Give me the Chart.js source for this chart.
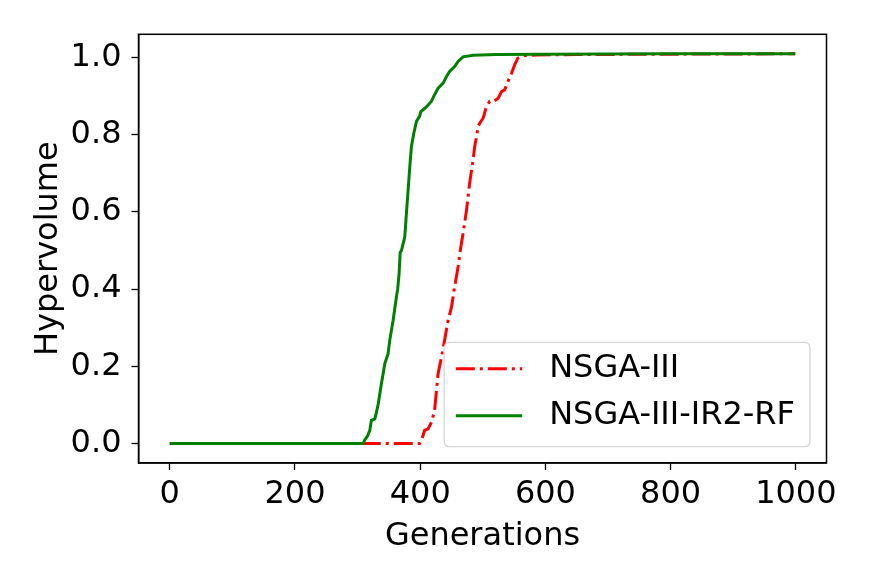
<!DOCTYPE html>
<html>
<head>
<meta charset="utf-8">
<script src="https://cdn.jsdelivr.net/npm/chart.js@4.4.1/dist/chart.umd.min.js"></script>
<style>
html,body{margin:0;padding:0;background:#fff;}
#wrap{width:872px;height:581px;position:relative;}
</style>
</head>
<body>
<div id="wrap"><canvas id="c"></canvas></div>
<script>
// ---- data ----
const seriesNames = ['NSGA-III', 'NSGA-III-IR2-RF'];

const nsgaGen = [0, 399, 402, 407, 412.6, 418, 423, 426, 428.6, 434, 439, 444.6, 450, 455, 460.5, 464, 468.5, 474, 479, 484.5, 487, 490, 492.5, 495, 500.5, 505, 511, 517.6, 524.5, 530, 535, 540.4, 546, 551, 556, 564.5, 586, 650, 800, 999];
const nsgaHV  = [0, 0, 0.008, 0.034, 0.038, 0.055, 0.086, 0.138, 0.181, 0.224, 0.268, 0.319, 0.354, 0.406, 0.458, 0.500, 0.545, 0.605, 0.675, 0.735, 0.770, 0.795, 0.822, 0.830, 0.843, 0.869, 0.887, 0.887, 0.895, 0.912, 0.917, 0.939, 0.960, 0.982, 0.999, 1.005, 1.007, 1.008, 1.009, 1.010];

const irGen = [0, 309, 311, 316, 319.5, 322, 327.5, 330, 333, 338, 343.5, 348.7, 351.4, 356.7, 362, 364, 366.3, 368, 370, 375.4, 378, 380.7, 383.4, 386, 389.8, 394, 396, 399, 401, 404.6, 411, 418, 423, 428.6, 436.6, 442, 447, 455, 460.5, 468.5, 484.5, 520, 600, 800, 999];
const irHV  = [0, 0, 0.008, 0.020, 0.034, 0.060, 0.064, 0.080, 0.103, 0.155, 0.207, 0.233, 0.268, 0.319, 0.380, 0.400, 0.440, 0.495, 0.500, 0.536, 0.597, 0.657, 0.718, 0.770, 0.804, 0.835, 0.840, 0.848, 0.860, 0.865, 0.874, 0.887, 0.904, 0.921, 0.934, 0.951, 0.964, 0.977, 0.990, 1.002, 1.006, 1.008, 1.009, 1.010, 1.010];

const xTicks = [0, 200, 400, 600, 800, 1000];
const yTicks = [0.0, 0.2, 0.4, 0.6, 0.8, 1.0];
const xTitle = 'Generations';
const yTitle = 'Hypervolume';

// ---- chart ----
const FONT = 'DejaVu Sans';
const FS = 32;

function toPts(xs, ys){ return xs.map((x,i)=>({x:x, y:ys[i]})); }

const frame = {
  id:'frame',
  afterDatasetsDraw(chart){
    const {ctx, chartArea:a} = chart;
    ctx.save();
    ctx.strokeStyle = '#000';
    ctx.lineWidth = 1.5;
    ctx.strokeRect(a.left, a.top, a.right-a.left, a.bottom-a.top);
    ctx.restore();
  }
};

const legendBox = {
  id:'legendBox',
  afterDraw(chart){
    const {ctx, chartArea:a} = chart;
    const ds = chart.data.datasets;
    ctx.save();
    ctx.font = FS + 'px "' + FONT + '"';
    let tw = 0;
    ds.forEach(d=>{ tw = Math.max(tw, ctx.measureText(d.label).width); });
    const padL = 11.7, handle = 66.3, gap = 27, padR = 15;
    const w = padL + handle + gap + tw + padR;
    const h = 104.3;
    const right = a.right - 16.5, bottom = a.bottom - 16.3;
    const left = right - w, top = bottom - h;
    const r = 6;
    ctx.beginPath();
    ctx.moveTo(left+r, top);
    ctx.lineTo(right-r, top); ctx.quadraticCurveTo(right, top, right, top+r);
    ctx.lineTo(right, bottom-r); ctx.quadraticCurveTo(right, bottom, right-r, bottom);
    ctx.lineTo(left+r, bottom); ctx.quadraticCurveTo(left, bottom, left, bottom-r);
    ctx.lineTo(left, top+r); ctx.quadraticCurveTo(left, top, left+r, top);
    ctx.closePath();
    ctx.fillStyle = 'rgba(255,255,255,0.8)';
    ctx.fill();
    ctx.strokeStyle = '#d6d6d6';
    ctx.lineWidth = 1.3;
    ctx.stroke();
    const rows = [top + 26.3, top + 73.3];
    ds.forEach((d,i)=>{
      const y = rows[i];
      ctx.beginPath();
      ctx.setLineDash(d.borderDash || []);
      ctx.lineCap = 'butt';
      ctx.strokeStyle = d.borderColor;
      ctx.lineWidth = d.borderWidth;
      ctx.moveTo(left+padL, y);
      ctx.lineTo(left+padL+handle, y);
      ctx.stroke();
      ctx.setLineDash([]);
      ctx.fillStyle = '#000';
      ctx.textAlign = 'left';
      ctx.textBaseline = 'middle';
      ctx.fillText(d.label, left+padL+handle+gap, y);
    });
    ctx.restore();
  }
};

new Chart(document.getElementById('c'), {
  type:'line',
  data:{
    datasets:[
      {label:seriesNames[0], data:toPts(nsgaGen, nsgaHV), borderColor:'#ff0000', borderWidth:3,
       borderDash:[19,5,3,5], pointRadius:0, tension:0, fill:false, order:2},
      {label:seriesNames[1], data:toPts(irGen, irHV), borderColor:'#008000', borderWidth:3,
       pointRadius:0, tension:0, fill:false, order:1}
    ]
  },
  options:{
    responsive:true,
    maintainAspectRatio:false,
    animation:false,
    devicePixelRatio:1,
    layout:{padding:{top:34.3, right:45.5, left:0, bottom:0}},
    plugins:{legend:{display:false}, tooltip:{enabled:false}},
    scales:{
      x:{
        type:'linear', min:-49.95, max:1048.95,
        afterBuildTicks(s){ s.ticks = xTicks.map(v=>({value:v})); },
        afterFit(s){ s.height = 118; },
        grid:{drawOnChartArea:false, drawTicks:true, tickLength:7, tickColor:'#000', tickWidth:1.3},
        border:{display:true, color:'#000', width:1.5},
        ticks:{color:'#000', font:{family:FONT, size:FS}, padding:5, maxRotation:0, autoSkip:false,
               callback:(v)=>String(v)},
        title:{display:true, text:xTitle, color:'#000', font:{family:FONT, size:FS}, padding:{top:0,bottom:25}}
      },
      y:{
        type:'linear', min:-0.0505, max:1.0605,
        afterBuildTicks(s){ s.ticks = yTicks.map(v=>({value:v})); },
        afterFit(s){ s.width = 138.5; },
        grid:{drawOnChartArea:false, drawTicks:true, tickLength:7, tickColor:'#000', tickWidth:1.3},
        border:{display:true, color:'#000', width:1.5},
        ticks:{color:'#000', font:{family:FONT, size:FS}, padding:10, autoSkip:false,
               callback:(v)=>Number(v).toFixed(1)},
        title:{display:true, text:yTitle, color:'#000', font:{family:FONT, size:FS}, padding:{top:29,bottom:0}}
      }
    }
  },
  plugins:[frame, legendBox]
});
</script>
</body>
</html>
